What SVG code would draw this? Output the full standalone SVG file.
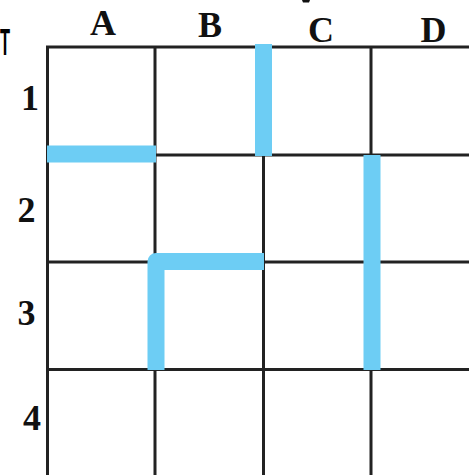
<svg xmlns="http://www.w3.org/2000/svg" width="469" height="475" viewBox="0 0 469 475">
<style>
.grid line{stroke:#222;stroke-width:3}
.hl{stroke:#6dcdf4;stroke-width:17;fill:none;stroke-linecap:butt;stroke-linejoin:round}
.lbl{font-family:"Liberation Serif",serif;font-weight:bold;font-size:36px;fill:#111;text-anchor:middle}
</style>
<rect width="469" height="475" fill="#fff"/>
<g id="grid" class="grid">
<line x1="47.5" y1="46" x2="47.5" y2="475"/>
<line x1="155" y1="46" x2="155" y2="475"/>
<line x1="263.5" y1="46" x2="263.5" y2="475"/>
<line x1="371" y1="46" x2="371" y2="475"/>
<line x1="46" y1="47" x2="469" y2="47"/>
<line x1="46" y1="155" x2="469" y2="155"/>
<line x1="46" y1="262" x2="469" y2="262"/>
<line x1="46" y1="369.5" x2="469" y2="369.5"/>
</g>
<g id="connectors">
<line class="hl" x1="47" y1="154" x2="156" y2="154"/>
<line class="hl" x1="263.5" y1="44" x2="263.5" y2="156"/>
<path class="hl" d="M156,370 V261.5 H264"/>
<line class="hl" x1="372" y1="155" x2="372" y2="370"/>
</g>
<g id="col-labels">
<text class="lbl" x="103" y="35">A</text>
<text class="lbl" x="210" y="37">B</text>
<text class="lbl" x="321" y="42">C</text>
<text class="lbl" x="433.5" y="42">D</text>
</g>
<g id="row-labels">
<text class="lbl" x="30" y="110">1</text>
<text class="lbl" x="26.5" y="222">2</text>
<text class="lbl" x="26.5" y="325">3</text>
<text class="lbl" x="32" y="430">4</text>
</g>
<g id="fragments">
<text x="0" y="55" font-family="Liberation Sans,sans-serif" font-weight="bold" font-size="37" fill="#000" textLength="10" lengthAdjust="spacingAndGlyphs">T</text>
<polygon points="302,0 310,0 309,2.5 303,2.5" fill="#111"/>
</g>
</svg>
